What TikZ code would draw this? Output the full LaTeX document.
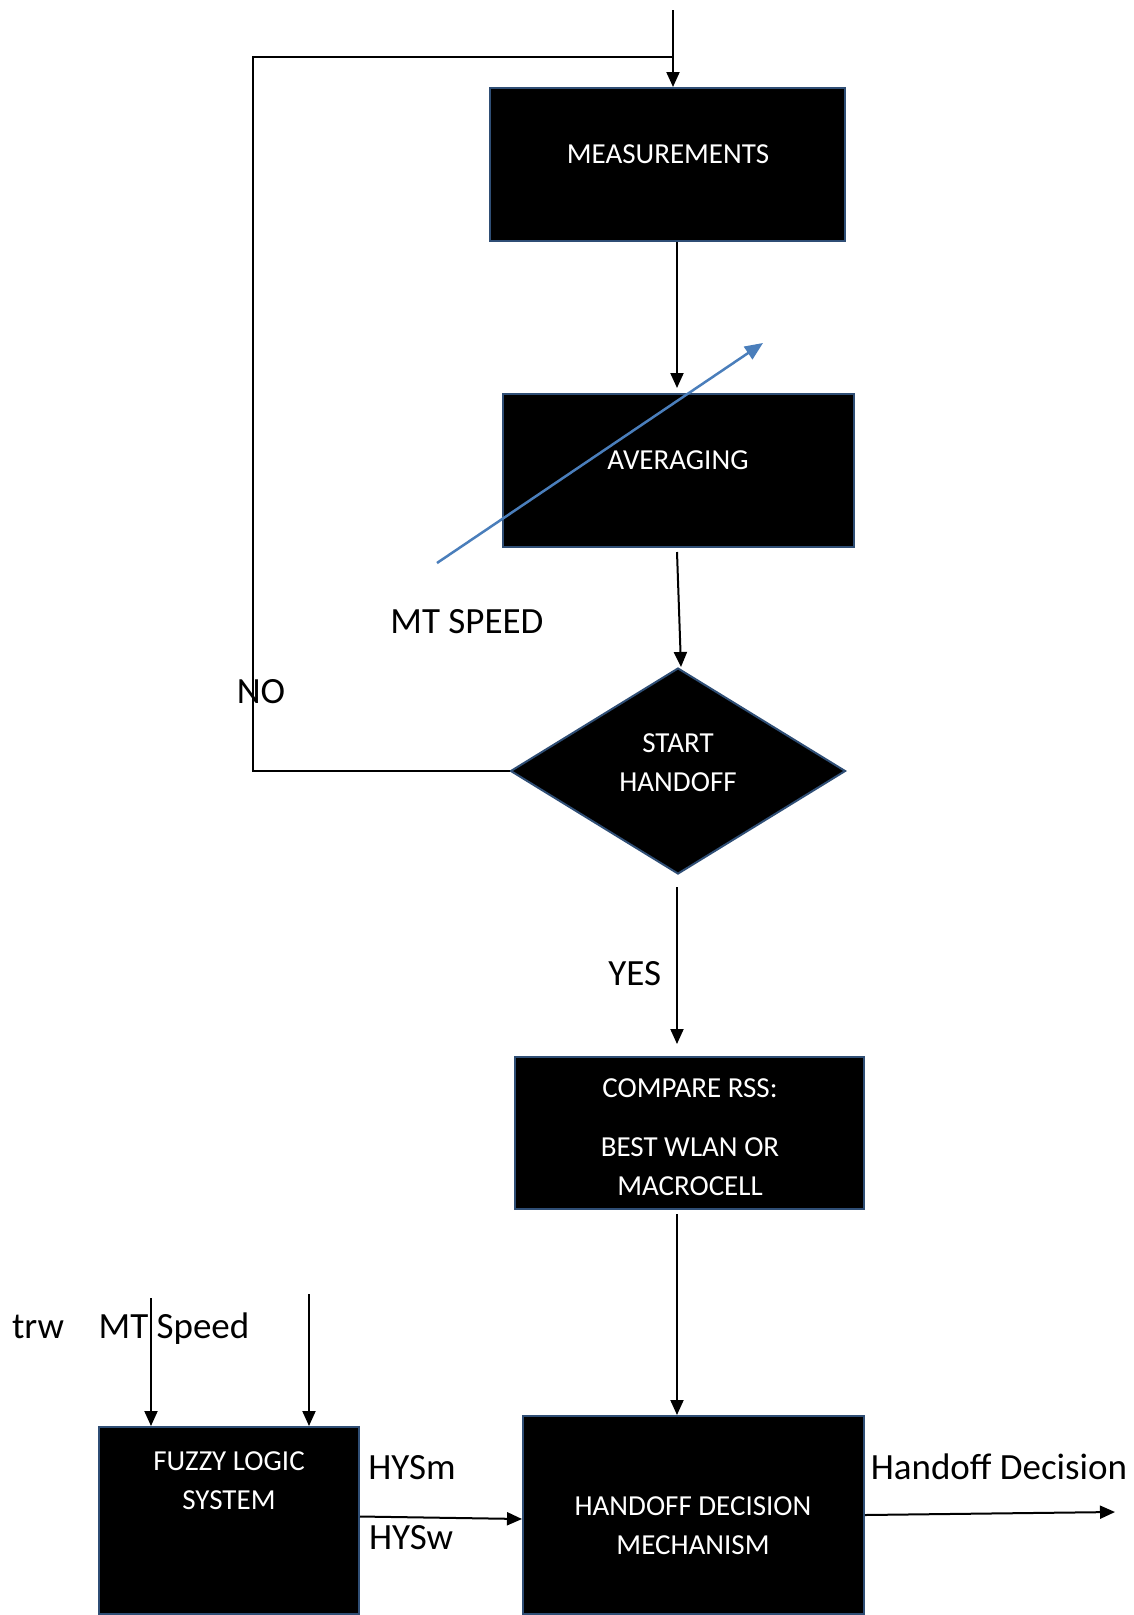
\documentclass[tikz,border=0pt]{standalone}
\usepackage{fontspec}
\setmainfont{Carlito}
\usepackage{tikz}
\usetikzlibrary{
  arrows.meta,
  shapes.geometric,
  positioning,
  calc
}
\definecolor{hoEdge}{HTML}{2F4E75}
\definecolor{hoBlue}{HTML}{4A7EBB}
\tikzset{
  hobox/.style={draw=hoEdge, fill=black, line width=2pt, inner sep=0pt},
  hodiam/.style={hobox, diamond},
  hotext/.style={text=white, font=\fontsize{29}{39}\selectfont, align=center, inner sep=0pt},
  hotag/.style={font=\fontsize{37}{44}\selectfont, inner sep=0pt, text height=24pt, text depth=0pt},
  flowline/.style={-{Triangle[length=15pt, width=13pt]}, line width=2pt, black},
  plainline/.style={line width=1.6pt, black},
  speedline/.style={-{Triangle[length=18pt, width=15pt]}, line width=2.5pt, hoBlue}
}
\begin{document}
\begin{tikzpicture}[x=1pt, y=-1pt]
  \useasboundingbox (0,0) rectangle (1134,1615);
  % blocks
  \node[hobox, minimum width=355pt, minimum height=153pt] (meas) at (667.5,164.5) {};
  \node[hobox, minimum width=351pt, minimum height=153pt] (avg) at (678.5,470.5) {};
  \node[hodiam, minimum width=335pt, minimum height=206pt] (start) at (678,771) {};
  \node[hobox, minimum width=349pt, minimum height=152pt] (cmp) at (689.5,1133) {};
  \node[hobox, minimum width=341pt, minimum height=198pt] (hdm) at (693.5,1515) {};
  \node[hobox, minimum width=260pt, minimum height=187pt] (fls) at (229,1520.5) {};
  % free ends
  \coordinate (topin) at (673,10);
  \coordinate (loopup) at (253,57);
  \coordinate (spine) at (677,0);
  \coordinate (spdtail) at (437,563);
  \coordinate (spdhead) at (763,343);
  \coordinate (in1) at (151,1298);
  \coordinate (in2) at (309,1294);
  \coordinate (hdout) at (1115,1512);
  % connectors
  \draw[flowline] (topin) -- (topin |- meas.north);
  \draw[plainline] (start.west) -| (loopup) -- (loopup -| topin);
  \draw[flowline] (meas.south -| spine) -- ($(avg.north -| spine)+(0,-5)$);
  \draw[flowline] ($(avg.south -| spine)+(0,4)$) -- ([xshift=3pt]start.north);
  \draw[flowline] ($(start.south -| spine)+(0,12)$) -- ($(cmp.north -| spine)+(0,-12)$)
    node[hotag, pos=0.55, left=15pt] (yes) {YES};
  \draw[flowline] ($(cmp.south -| spine)+(0,4)$) -- (hdm.north -| spine);
  \draw[flowline] ([yshift=4pt]fls.east) -- ([yshift=-4pt]hdm.west);
  \draw[flowline] (hdm.east) -- (hdout);
  \draw[flowline] (in1) -- (in1 |- fls.north);
  \draw[flowline] (in2) -- (in2 |- fls.north);
  \draw[speedline] (spdtail) -- (spdhead);
  % block texts
  \node[hotext] (meastxt) at (668,154) {MEASUREMENTS};
  \node[hotext] (avgtxt) at (678,460) {AVERAGING};
  \node[hotext] (starttxt) at (678,763) {START\\HANDOFF};
  \node[hotext] (cmptxt) at (690,1137) {COMPARE RSS:\\[20pt]BEST WLAN OR\\MACROCELL};
  \node[hotext] (hdmtxt) at (693,1526) {HANDOFF DECISION\\MECHANISM};
  \node[hotext] (flstxt) at (229,1481) {FUZZY LOGIC\\SYSTEM};
  % labels
  \node[hotag] (mtspeed) at (467,621) {MT SPEED};
  \node[hotag] (no) at (261,691) {NO};
  \node[hotag] (trw) at (38,1326) {trw};
  \node[hotag] (mtspd) at (174,1326) {MT Speed};
  \node[hotag] (hysm) at (412,1467) {HYSm};
  \node[hotag] (hysw) at (411,1537) {HYSw};
  \node[hotag] (hdlbl) at (999,1467) {Handoff Decision};
\end{tikzpicture}
\end{document}
